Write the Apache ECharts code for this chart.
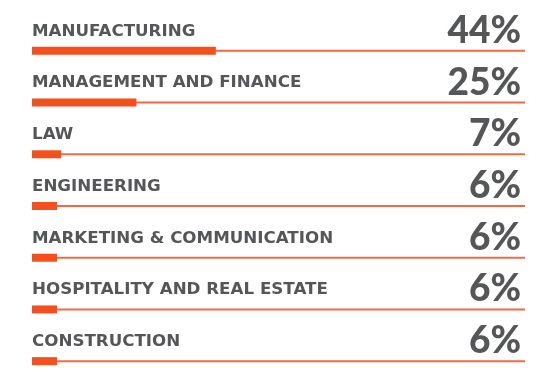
<!DOCTYPE html>
<html>
<head>
<meta charset="utf-8">
<script src="https://cdn.jsdelivr.net/npm/echarts@6/dist/echarts.min.js"></script>
<style>
html,body{margin:0;padding:0;background:#fff;}
#chart{width:556px;height:388px;}
</style>
</head>
<body>
<div id="chart"></div>
<script>
const categories = ['MANUFACTURING','MANAGEMENT AND FINANCE','LAW','ENGINEERING','MARKETING & COMMUNICATION','HOSPITALITY AND REAL ESTATE','CONSTRUCTION'];
const values = [44, 25, 7, 6, 6, 6, 6];
const scaleMax = 118;

const textColor = '#555658';
const barColor = '#f4501e';
const lineColor = '#ef6a46';

const chart = echarts.init(document.getElementById('chart'), null, {renderer:'canvas'});
chart.setOption({
  animation: false,
  grid: {left: 32, right: 31, top: 25, height: 362, containLabel: false},
  xAxis: {type: 'value', min: 0, max: scaleMax, show: false},
  yAxis: [
    {type: 'category', data: categories, inverse: true, show: false},
    {type: 'category', data: categories, inverse: true, show: false}
  ],
  series: [
    {
      type: 'bar', yAxisIndex: 1, barWidth: 2,
      data: values.map(() => scaleMax),
      itemStyle: {color: lineColor},
      silent: true,
      label: {
        show: true,
        position: ['100%', -19],
        align: 'right', verticalAlign: 'middle',
        offset: [-4, 0],
        formatter: p => values[p.dataIndex] + '%',
        fontFamily: 'Lato', fontWeight: 900, fontSize: 37, color: textColor
      },
      z: 2
    },
    {
      type: 'bar', yAxisIndex: 0, barWidth: 8,
      data: values,
      itemStyle: {color: barColor},
      label: {
        show: true,
        position: [0, -15.5],
        align: 'left', verticalAlign: 'middle',
        formatter: '{b}',
        fontFamily: 'DejaVu Sans', fontWeight: 'bold', fontSize: 16.7, color: textColor
      },
      z: 3
    }
  ]
});
</script>
</body>
</html>
